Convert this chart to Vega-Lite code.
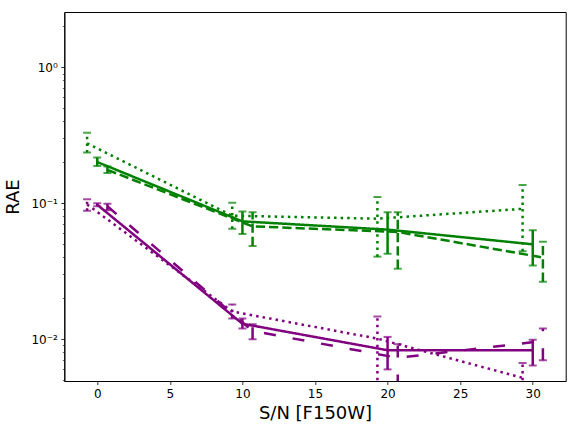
{
  "$schema": "https://vega.github.io/schema/vega-lite/v6.json",
  "autosize": {"type": "none"},
  "width": 501.4,
  "height": 369,
  "padding": {"left": 64.3, "top": 12, "right": 10.3, "bottom": 51},
  "background": "white",
  "config": {
    "view": {"stroke": "black", "strokeWidth": 1},
    "font": "DejaVu Sans",
    "axis": {
      "domainColor": "black", "domainWidth": 1, "tickColor": "black", "tickWidth": 0.8,
      "labelColor": "black", "titleColor": "black", "labelFont": "DejaVu Sans", "titleFont": "DejaVu Sans",
      "labelFontSize": 12, "titleFontSize": 18, "titleFontWeight": "normal", "grid": false
    }
  },
  "data": {
    "values": [
      {"quantity": "Q1", "series": "Q1-M1", "sn": 0, "rae": 0.201, "lo": 0.188, "hi": 0.217},
      {"quantity": "Q1", "series": "Q1-M1", "sn": 10, "rae": 0.0736, "lo": 0.0595, "hi": 0.087},
      {"quantity": "Q1", "series": "Q1-M1", "sn": 20, "rae": 0.064, "lo": 0.0425, "hi": 0.0857},
      {"quantity": "Q1", "series": "Q1-M1", "sn": 30, "rae": 0.0499, "lo": 0.0348, "hi": 0.0632},
      {"quantity": "Q1", "series": "Q1-M2", "sn": 0.7, "rae": 0.176, "lo": 0.167, "hi": 0.186},
      {"quantity": "Q1", "series": "Q1-M2", "sn": 10.7, "rae": 0.0676, "lo": 0.0484, "hi": 0.0857},
      {"quantity": "Q1", "series": "Q1-M2", "sn": 20.7, "rae": 0.0615, "lo": 0.033, "hi": 0.0857},
      {"quantity": "Q1", "series": "Q1-M2", "sn": 30.7, "rae": 0.0399, "lo": 0.0265, "hi": 0.052},
      {"quantity": "Q1", "series": "Q1-M3", "sn": -0.7, "rae": 0.276, "lo": 0.236, "hi": 0.33},
      {"quantity": "Q1", "series": "Q1-M3", "sn": 9.3, "rae": 0.081, "lo": 0.065, "hi": 0.101},
      {"quantity": "Q1", "series": "Q1-M3", "sn": 19.3, "rae": 0.077, "lo": 0.0405, "hi": 0.111},
      {"quantity": "Q1", "series": "Q1-M3", "sn": 29.3, "rae": 0.091, "lo": 0.0444, "hi": 0.136},
      {"quantity": "Q2", "series": "Q2-M1", "sn": 0, "rae": 0.0975, "lo": 0.095, "hi": 0.1},
      {"quantity": "Q2", "series": "Q2-M1", "sn": 10, "rae": 0.013, "lo": 0.012, "hi": 0.0142},
      {"quantity": "Q2", "series": "Q2-M1", "sn": 20, "rae": 0.0083, "lo": 0.006, "hi": 0.0104},
      {"quantity": "Q2", "series": "Q2-M1", "sn": 30, "rae": 0.0083, "lo": 0.0064, "hi": 0.0099},
      {"quantity": "Q2", "series": "Q2-M2", "sn": 0.7, "rae": 0.095, "lo": 0.089, "hi": 0.099},
      {"quantity": "Q2", "series": "Q2-M2", "sn": 10.7, "rae": 0.0115, "lo": 0.01, "hi": 0.0129},
      {"quantity": "Q2", "series": "Q2-M2", "sn": 20.7, "rae": 0.0073, "lo": 0.0045, "hi": 0.0092},
      {"quantity": "Q2", "series": "Q2-M2", "sn": 30.7, "rae": 0.0097, "lo": 0.007, "hi": 0.012},
      {"quantity": "Q2", "series": "Q2-M3", "sn": -0.7, "rae": 0.098, "lo": 0.088, "hi": 0.107},
      {"quantity": "Q2", "series": "Q2-M3", "sn": 9.3, "rae": 0.016, "lo": 0.0142, "hi": 0.018},
      {"quantity": "Q2", "series": "Q2-M3", "sn": 19.3, "rae": 0.0101, "lo": 0.004, "hi": 0.0147},
      {"quantity": "Q2", "series": "Q2-M3", "sn": 29.3, "rae": 0.0052, "lo": 0.004, "hi": 0.0067}
    ]
  },
  "encoding": {
    "x": {
      "field": "sn", "type": "quantitative",
      "scale": {"domain": [-2.27, 32.27], "nice": false, "zero": false},
      "axis": {"values": [0, 5, 10, 15, 20, 25, 30], "tickSize": 3.5, "labelPadding": 3.5, "title": "S/N [F150W]", "titlePadding": 5}
    },
    "color": {
      "field": "quantity", "type": "nominal",
      "scale": {"domain": ["Q1", "Q2"], "range": ["#008000", "#800080"]},
      "legend": null
    }
  },
  "layer": [
    {
      "mark": {"type": "rule", "strokeWidth": 2.5, "clip": true},
      "encoding": {
        "y": {"field": "lo", "type": "quantitative"},
        "y2": {"field": "hi"},
        "strokeDash": {
          "field": "series", "type": "nominal",
          "scale": {"domain": ["Q1-M1", "Q1-M2", "Q1-M3", "Q2-M1", "Q2-M2", "Q2-M3"],
                    "range": [[1, 0], [9.25, 4], [2.5, 4.1], [1, 0], [12, 17], [2.5, 4.1]]},
          "legend": null
        }
      }
    },
    {
      "mark": {"type": "tick", "orient": "horizontal", "size": 8, "thickness": 2, "clip": true},
      "encoding": {"y": {"field": "lo", "type": "quantitative"}}
    },
    {
      "mark": {"type": "tick", "orient": "horizontal", "size": 8, "thickness": 2, "clip": true},
      "encoding": {"y": {"field": "hi", "type": "quantitative"}}
    },
    {
      "mark": {"type": "line", "strokeWidth": 2.5, "clip": true},
      "encoding": {
        "y": {
          "field": "rae", "type": "quantitative",
          "scale": {"type": "log", "domain": [0.00493, 2.55], "nice": false},
          "axis": {
            "title": "RAE", "titlePadding": 8, "tickSize": {"condition": {"test": "abs(log(datum.value)/LN10 - round(log(datum.value)/LN10)) < 0.001", "value": 3.5}, "value": 2},
            "tickWidth": {"condition": {"test": "abs(log(datum.value)/LN10 - round(log(datum.value)/LN10)) < 0.001", "value": 0.8}, "value": 0.6},
            "labelPadding": 3.5,
            "values": [0.005, 0.006, 0.007, 0.008, 0.009, 0.01, 0.02, 0.03, 0.04, 0.05, 0.06, 0.07, 0.08, 0.09, 0.1, 0.2, 0.3, 0.4, 0.5, 0.6, 0.7, 0.8, 0.9, 1, 2],
            "labelExpr": "abs(datum.value - 1) < 1e-9 ? '10⁰' : abs(datum.value - 0.1) < 1e-9 ? '10⁻¹' : abs(datum.value - 0.01) < 1e-9 ? '10⁻²' : ''"
          }
        },
        "detail": {"field": "series"},
        "strokeDash": {"field": "series", "type": "nominal", "legend": null}
      }
    }
  ]
}
